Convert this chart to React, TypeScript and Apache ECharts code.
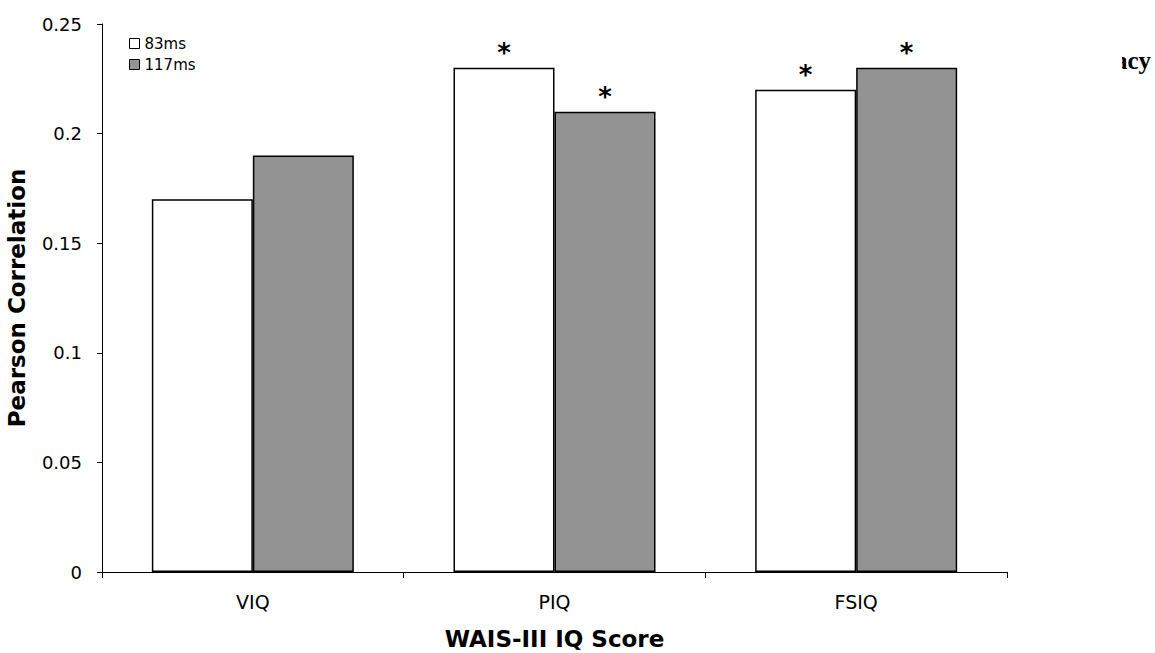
import React, { useEffect, useRef } from "react";
import * as echarts from "echarts";

const categories = ["VIQ", "PIQ", "FSIQ"];
const series83 = [0.17, 0.23, 0.22];
const series117 = [0.19, 0.21, 0.23];
const sig83 = [false, true, true];
const sig117 = [false, true, true];
const yTicks = [0, 0.05, 0.1, 0.15, 0.2, 0.25];

export default function App() {
  const ref = useRef<HTMLDivElement>(null);
  useEffect(() => {
    const chart = echarts.init(ref.current!, null, { renderer: "svg" });
    const font = "'DejaVu Sans', Verdana, sans-serif";
    const mk = (name: string, data: number[], sig: boolean[], color: string) => ({
      name,
      type: "bar",
      data: data.map((v, i) => ({ value: v, sig: sig[i] })),
      barWidth: 101,
      barGap: "0%",
      itemStyle: { color, borderColor: "#000", borderWidth: 1.5 },
      label: {
        show: true,
        position: "top",
        distance: 2,
        fontFamily: font,
        fontWeight: "bold",
        fontSize: 26,
        color: "#000",
        formatter: (p: any) => (p.data.sig ? "*" : ""),
      },
      emphasis: { disabled: true },
    });
    chart.setOption({
      animation: false,
      backgroundColor: "#fff",
      grid: { left: 102, right: 148, top: 24, bottom: 81, containLabel: false, outerBoundsMode: "none" },
      legend: {
        orient: "vertical",
        left: 124,
        top: 31,
        icon: "rect",
        itemWidth: 10,
        itemHeight: 10,
        itemGap: 6,
        textStyle: { fontFamily: font, fontSize: 15, color: "#000", padding: [0, 0, 0, 0] },
        data: [
          { name: "83ms", itemStyle: { color: "#fff", borderColor: "#000", borderWidth: 1 } },
          { name: "117ms", itemStyle: { color: "#939393", borderColor: "#000", borderWidth: 1 } },
        ],
      },
      xAxis: {
        type: "category",
        data: categories,
        name: "WAIS-III IQ Score",
        nameLocation: "middle",
        nameGap: 55,
        nameTextStyle: { fontFamily: font, fontWeight: "bold", fontSize: 23, color: "#000" },
        axisLine: { lineStyle: { color: "#000", width: 1 } },
        axisTick: { show: true, length: 6, lineStyle: { color: "#000" } },
        axisLabel: { fontFamily: font, fontSize: 19, color: "#000", margin: 20 },
      },
      yAxis: {
        type: "value",
        min: yTicks[0],
        max: yTicks[yTicks.length - 1],
        interval: 0.05,
        name: "Pearson Correlation",
        nameLocation: "middle",
        nameGap: 74,
        nameRotate: 90,
        nameTextStyle: { fontFamily: font, fontWeight: "bold", fontSize: 23, color: "#000" },
        axisLine: { show: true, lineStyle: { color: "#000", width: 1 } },
        axisTick: { show: true, length: 5, lineStyle: { color: "#000" } },
        axisLabel: { fontFamily: font, fontSize: 18, color: "#000", margin: 20 },
        splitLine: { show: false },
      },
      graphic: [
        {
          type: "text",
          x: 1151,
          y: 73,
          style: {
            text: "acy",
            font: "bold 25px 'Liberation Serif', 'Times New Roman', serif",
            fill: "#000",
            textAlign: "right",
            textVerticalAlign: "bottom",
          },
        },
        {
          type: "rect",
          shape: { x: 1080, y: 40, width: 42, height: 45 },
          style: { fill: "#fff" },
          z: 100,
        },
      ],
      series: [mk("83ms", series83, sig83, "#fff"), mk("117ms", series117, sig117, "#939393")],
    });
    return () => chart.dispose();
  }, []);
  return <div ref={ref} style={{ position: "fixed", left: 0, top: 0, width: 1155, height: 653 }} />;
}
